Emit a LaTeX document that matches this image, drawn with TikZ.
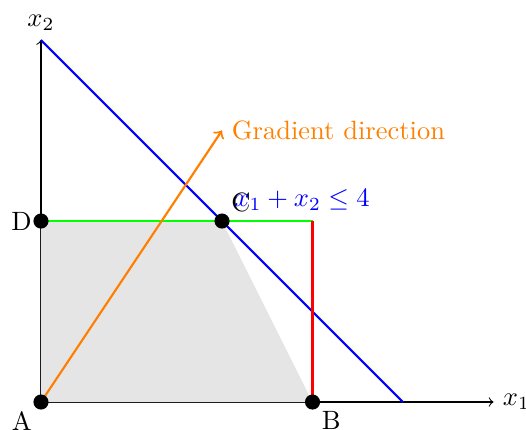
\documentclass[tikz,border=0pt]{standalone}
\begin{document}
\begin{tikzpicture}[x=1.2cm,y=1.2cm,
  dot/.style={circle,fill=black,inner sep=0pt,minimum size=5.7pt},
  axis/.style={->,black},
  cline/.style={thick}
]
\useasboundingbox (-0.453,-0.309) rectangle (5.359,4.442);
\coordinate (O) at (0,0);
\coordinate (X) at (5,0);
\coordinate (Y) at (0,4);
\coordinate (P) at (4,0);
\coordinate (G) at (2,3);
\coordinate (Bb) at (3,0);
\draw[axis] (O) -- (X) node[right] {$x_1$};
\draw[axis] (O) -- (Y) node[above] {$x_2$};
\fill[gray!20] (0,0) -- (3,0) -- (2,2) -- (0,2) -- cycle;
\draw[cline,blue] (Y) -- (P);
\draw[cline,green] (0,2) -- (3,2);
\draw[cline,red] (3,2) -- (Bb);
\draw[cline,orange,->] (O) -- (G) node[right] {Gradient direction};
\node[dot] (A) at (0,0) {};
\node[dot] (B) at (3,0) {};
\node[dot] (C) at (2,2) {};
\node[dot] (D) at (0,2) {};
\node[below left] at (A) {A};
\node[below right] at (B) {B};
\node[above right] at (C) {C};
\node[left] at (D) {D};
\node[blue] (L) at (2.884,2.23) {$x_1 + x_2 \leq 4$};
\end{tikzpicture}
\end{document}
